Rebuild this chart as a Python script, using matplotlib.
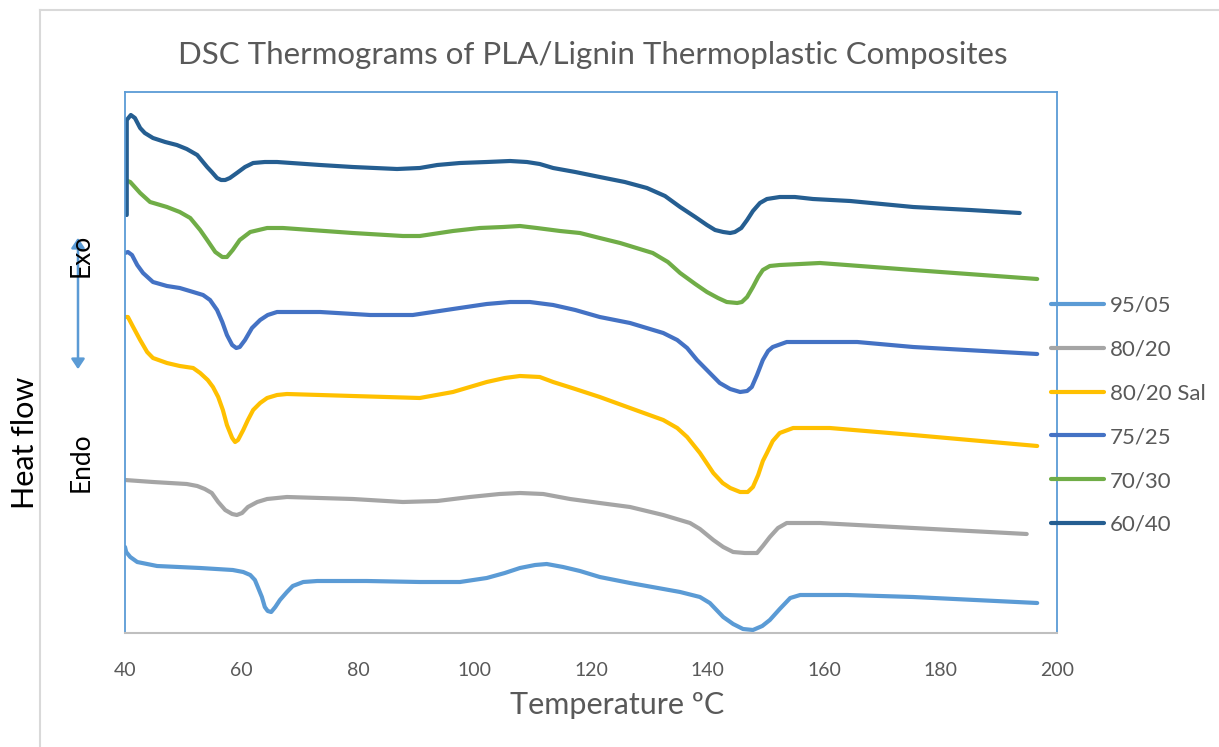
#!/usr/bin/env python3
import matplotlib
matplotlib.use("Agg")
import matplotlib.pyplot as plt
from matplotlib.lines import Line2D
from matplotlib.patches import FancyArrowPatch

# --- Data (temperature in C, heat flow in arbitrary units, curves offset) ---
labels = ["95/05", "80/20", "80/20 Sal", "75/25", "70/30", "60/40"]
colors = ["#5B9BD5", "#A5A5A5", "#FFC000", "#4472C4", "#70AD47", "#255E91"]

t_9505 = [40.0, 40.2, 40.9, 42.1, 43.8, 45.5, 52.9, 58.5, 60.3, 61.5, 62.3, 62.8, 63.5, 64.0,
          64.5, 65.1, 65.8, 66.6, 67.8, 68.8, 70.6, 73.0, 81.5, 90.6, 97.5, 102.1, 105.2,
          107.8, 110.4, 112.4, 115.2, 118.1, 121.5, 126.7, 135.3, 138.7, 140.4, 142.7, 144.4,
          146.1, 147.8, 149.4, 150.7, 152.4, 154.2, 155.9, 164.0, 175.3, 196.6]
hf_9505 = [8.6, 8.1, 7.6, 7.1, 6.9, 6.7, 6.5, 6.3, 6.1, 5.8, 5.3, 4.6, 3.6, 2.6,
           2.2, 2.1, 2.6, 3.3, 4.1, 4.7, 5.1, 5.2, 5.2, 5.1, 5.1, 5.5, 6.0,
           6.5, 6.8, 6.9, 6.6, 6.2, 5.6, 5.0, 4.1, 3.6, 3.0, 1.6, 0.9,
           0.4, 0.3, 0.7, 1.3, 2.4, 3.5, 3.8, 3.8, 3.6, 3.0]

t_8020 = [40.0, 44.8, 50.6, 52.4, 53.7, 54.9, 56.0, 57.2, 58.4, 59.2, 60.1, 61.1, 62.7, 64.4,
          67.8, 79.1, 87.7, 93.6, 99.2, 104.3, 107.8, 111.8, 116.4, 121.5, 126.7, 132.4,
          137.0, 138.7, 141.0, 142.7, 144.4, 146.4, 148.5, 149.5, 150.7, 152.1, 153.6, 159.3,
          175.3, 194.8]
hf_8020 = [15.3, 15.1, 14.9, 14.7, 14.4, 14.0, 13.1, 12.3, 11.9, 11.8, 12.0, 12.6, 13.1, 13.4,
           13.6, 13.4, 13.1, 13.2, 13.6, 13.9, 14.0, 13.9, 13.4, 13.0, 12.6, 11.8,
           11.0, 10.4, 9.3, 8.6, 8.1, 8.0, 8.0, 8.7, 9.6, 10.5, 11.0, 11.0,
           10.5, 9.9]

t_sal = [40.0, 40.5, 41.4, 42.6, 43.8, 44.8, 47.2, 49.4, 51.7, 52.9, 54.2, 55.1, 56.0, 56.8,
         57.5, 58.4, 58.9, 59.4, 60.3, 61.1, 62.0, 63.2, 64.4, 66.1, 67.8, 79.1, 90.6, 96.3,
         99.2, 102.1, 105.2, 107.8, 111.2, 113.5, 117.3, 121.5, 126.7, 132.4, 134.8, 136.5,
         138.7, 141.0, 142.6, 143.9, 145.6, 146.9, 147.8, 148.7, 149.5, 150.2, 151.2, 152.4,
         154.7, 161.0, 175.3, 196.6]
hf_sal = [31.6, 31.6, 30.6, 29.3, 28.1, 27.5, 27.0, 26.7, 26.5, 26.0, 25.3, 24.6, 23.6, 22.3,
          20.8, 19.5, 19.1, 19.3, 20.3, 21.3, 22.3, 23.0, 23.5, 23.8, 23.9, 23.7, 23.5, 24.1,
          24.6, 25.1, 25.5, 25.7, 25.6, 25.1, 24.4, 23.6, 22.5, 21.3, 20.5, 19.6,
          18.0, 16.0, 15.0, 14.5, 14.1, 14.1, 14.6, 15.8, 17.2, 18.0, 19.2, 20.0,
          20.5, 20.5, 19.8, 18.7]

t_7525 = [40.0, 40.5, 41.2, 42.1, 43.1, 44.8, 47.2, 49.4, 51.7, 53.4, 54.6, 55.8, 56.7, 57.5,
          58.4, 59.1, 59.7, 60.6, 61.8, 63.2, 64.5, 66.1, 73.5, 82.1, 89.4, 96.3, 102.1,
          106.1, 109.5, 113.5, 117.3, 121.5, 126.7, 132.4, 134.8, 136.5, 138.2, 140.4, 142.1,
          143.9, 145.6, 146.8, 147.6, 148.5, 149.5, 150.4, 151.2, 153.6, 165.7, 175.3, 196.6]
hf_7525 = [38.0, 38.1, 37.8, 36.8, 36.0, 35.1, 34.7, 34.5, 34.1, 33.8, 33.3, 32.3, 31.1, 29.8,
           28.8, 28.5, 28.6, 29.3, 30.5, 31.3, 31.8, 32.1, 32.1, 31.8, 31.8, 32.4, 32.9,
           33.1, 33.1, 32.8, 32.3, 31.6, 31.0, 30.0, 29.3, 28.5, 27.3, 26.0, 25.0,
           24.4, 24.1, 24.2, 24.6, 25.8, 27.3, 28.2, 28.6, 29.1, 29.1, 28.6, 27.9]

t_7030 = [40.0, 40.9, 42.6, 44.3, 47.2, 49.4, 51.2, 52.9, 54.1, 55.5, 56.7, 57.5, 58.5, 59.7,
          61.5, 64.4, 67.1, 79.1, 87.7, 90.6, 96.3, 100.9, 104.9, 107.8, 110.7, 114.7, 118.1,
          121.5, 125.0, 130.6, 133.2, 135.3, 137.9, 139.9, 141.8, 143.3, 145.1, 145.9, 146.8,
          147.8, 148.7, 149.5, 150.7, 152.4, 155.9, 159.3, 175.3, 196.6]
hf_7030 = [45.3, 45.1, 44.0, 43.1, 42.6, 42.1, 41.5, 40.3, 39.3, 38.1, 37.6, 37.6, 38.3, 39.3,
           40.1, 40.5, 40.5, 40.0, 39.7, 39.7, 40.2, 40.5, 40.6, 40.7, 40.5, 40.2, 40.0,
           39.5, 39.0, 38.0, 37.1, 36.0, 34.9, 34.1, 33.5, 33.1, 33.0, 33.1, 33.6,
           34.6, 35.6, 36.3, 36.7, 36.8, 36.9, 37.0, 36.3, 35.4]

t_6040 = [40.3, 40.3, 41.0, 41.7, 42.6, 43.4, 44.8, 46.9, 48.9, 50.6, 52.4, 54.1, 54.9, 55.8,
          56.5, 57.2, 58.0, 59.2, 60.6, 62.0, 64.0, 66.1, 73.5, 79.1, 86.7, 90.6, 93.6, 97.5,
          102.1, 106.1, 109.0, 111.2, 113.5, 117.3, 121.5, 125.8, 129.6, 132.7, 135.3, 137.9,
          139.9, 141.3, 142.7, 143.9, 144.7, 145.8, 146.8, 147.8, 149.0, 150.2, 152.4, 155.0,
          158.1, 164.5, 175.3, 185.1, 193.6]
hf_6040 = [41.8, 51.3, 51.8, 51.5, 50.5, 50.0, 49.5, 49.1, 48.8, 48.4, 47.8, 46.6, 46.1, 45.5,
           45.3, 45.3, 45.5, 46.0, 46.6, 47.0, 47.1, 47.1, 46.8, 46.6, 46.4, 46.5, 46.8, 47.0,
           47.1, 47.2, 47.1, 46.9, 46.5, 46.1, 45.6, 45.1, 44.5, 43.7, 42.6, 41.6,
           40.8, 40.3, 40.1, 40.0, 40.1, 40.5, 41.3, 42.2, 43.0, 43.4, 43.6, 43.6,
           43.4, 43.2, 42.6, 42.3, 42.0]

series = [(t_9505, hf_9505), (t_8020, hf_8020), (t_sal, hf_sal),
          (t_7525, hf_7525), (t_7030, hf_7030), (t_6040, hf_6040)]

x_ticks = [40, 60, 80, 100, 120, 140, 160, 180, 200]

# --- Fonts / colors ---
plt.rcParams['font.family'] = ['Lato', 'DejaVu Sans']
TXT = "#595959"

W, H = 1219, 747
fig = plt.figure(figsize=(W / 100, H / 100), dpi=100)

# light gray chart frame
fig.add_artist(Line2D([40 / W, 40 / W], [0, 1 - 10 / H], color="#D9D9D9", lw=1.5))
fig.add_artist(Line2D([40 / W, 1], [1 - 10 / H, 1 - 10 / H], color="#D9D9D9", lw=1.5))

ax = fig.add_axes([125 / W, 1 - 633 / H, (1057 - 125) / W, (633 - 92) / H])

for (t, hf), lab, col in zip(series, labels, colors):
    ax.plot(t, hf, color=col, lw=3, label=lab, solid_joinstyle="round", solid_capstyle="round")

ax.set_xlim(40, 200)
ax.set_ylim(0, 54.1)
ax.set_xticks(x_ticks)
ax.set_yticks([])
ax.tick_params(axis="x", length=0, pad=21, labelsize=14, labelcolor=TXT)

for side in ["left", "top", "right"]:
    ax.spines[side].set_color("#5B9BD5")
    ax.spines[side].set_linewidth(1.3)
ax.spines["bottom"].set_color("#BFBFBF")
ax.spines["bottom"].set_linewidth(1.5)

# titles and axis texts
fig.text(593 / W, 1 - 55 / H, "DSC Thermograms of PLA/Lignin Thermoplastic Composites",
         ha="center", va="center", fontsize=22.5, color=TXT)
fig.text(617 / W, 1 - 705 / H, "Temperature ºC", ha="center", va="center",
         fontsize=22, color=TXT)
fig.text(25 / W, 1 - 443 / H, "Heat flow", rotation=90, ha="center", va="center",
         fontsize=22, color="#000000")
fig.text(81 / W, 1 - 255 / H, "Exo", rotation=90, ha="center", va="center",
         fontsize=19, color="#000000")
fig.text(81 / W, 1 - 462 / H, "Endo", rotation=90, ha="center", va="center",
         fontsize=19, color="#000000")

# exo / endo double arrow
fig.add_artist(FancyArrowPatch(
    (78 / W, 1 - 372 / H), (78 / W, 1 - 235 / H), transform=fig.transFigure,
    arrowstyle="<|-|>,head_length=6,head_width=4", color="#5B9BD5", lw=1.8))

# legend outside the plot, to the right
handles, labs = ax.get_legend_handles_labels()
leg = fig.legend(handles, labs, loc="upper left", bbox_to_anchor=(1042 / W, 1 - 287 / H),
                 frameon=False, fontsize=16, handlelength=2.4, handletextpad=0.25,
                 labelspacing=1.07, borderaxespad=0)
for text in leg.get_texts():
    text.set_color(TXT)

fig.savefig("out.png", dpi=100)
